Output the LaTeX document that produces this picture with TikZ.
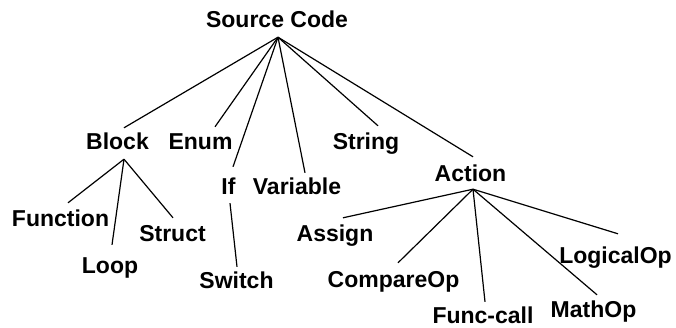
\documentclass[tikz,border=0pt]{standalone}
\usepackage{fontspec}
\setmainfont{Liberation Sans}
\usepackage{tikz}
\usetikzlibrary{calc}

\begin{document}
\begin{tikzpicture}[
		x=1pt, y=-1pt,
		edge/.style={line width=1.2pt},
		every node/.style={font=\bfseries\fontsize{23}{27}\selectfont,
			inner sep=0pt, text height=16.5pt, text depth=0pt, anchor=base}]
		
		\useasboundingbox (0,0) rectangle (676,328);
		
		\node (src)    at (277,28)    {Source Code};
		\node (block)  at (117.5,150) {Block};
		\node (enum)   at (200.5,150) {Enum};
		\node (if)     at (228.5,195) {If};
		\node (var)    at (297,195)   {Variable};
		\node (str)    at (366,150)   {String};
		\node (action) at (470.5,182) {Action};
		
		\node (func)   at (60.5,227)  {Function};
		\node (loop)   at (110,273)   {Loop};
		\node (struct) at (172.5,242) {Struct};
		\node (switch) at (236.5,288) {Switch};
		
		\node (assign)  at (335,242)   {Assign};
		\node (compare) at (393.5,287) {CompareOp};
		\node (fcall)   at (483,323.5) {Func-call};
		\node (math)    at (593.5,317) {MathOp};
		\node (logic)   at (615.5,263) {LogicalOp};
		
		\draw[edge] ($ (src.south) + (1,9) $) -- ($ (block.north) + (6.5,-5.5) $);
		\draw[edge] ($ (src.south) + (1,9) $) -- ($ (enum.north) + (14.5,-6.5) $);
		\draw[edge] ($ (src.south) + (1,9) $) -- ($ (if.north) + (4.5,-11.5) $);
		\draw[edge] ($ (src.south) + (1,9) $) -- ($ (var.north) + (8,-5.5) $);
		\draw[edge] ($ (src.south) + (1,9) $) -- ($ (str.north) + (12,-7.5) $);
		\draw[edge] ($ (src.south) + (1,9) $) -- ($ (action.north) + (2.5,-8.5) $);
		
		\draw[edge] ($ (block.south) + (6.5,9) $) -- ($ (func.north) + (7.5,-7.5) $);
		\draw[edge] ($ (block.south) + (6.5,9) $) -- ($ (loop.north) + (2,-11.5) $);
		\draw[edge] ($ (block.south) + (6.5,9) $) -- ($ (struct.north) + (0.5,-7.5) $);
		
		\draw[edge] ($ (if.south) + (1.5,8) $) -- ($ (switch.north) + (0.5,-4.5) $);
		
		\draw[edge] ($ (action.south) + (2.5,7) $) -- ($ (assign.north) + (8,-7.5) $);
		\draw[edge] ($ (action.south) + (2.5,7) $) -- ($ (compare.north) + (4.5,-7.5) $);
		\draw[edge] ($ (action.south) + (2.5,7) $) -- ($ (fcall.north) + (2,-5) $);
		\draw[edge] ($ (action.south) + (2.5,7) $) -- ($ (math.north) + (3.5,-5.5) $);
		\draw[edge] ($ (action.south) + (2.5,7) $) -- ($ (logic.north) + (2.5,-12.5) $);
		
\end{tikzpicture}
\end{document}
